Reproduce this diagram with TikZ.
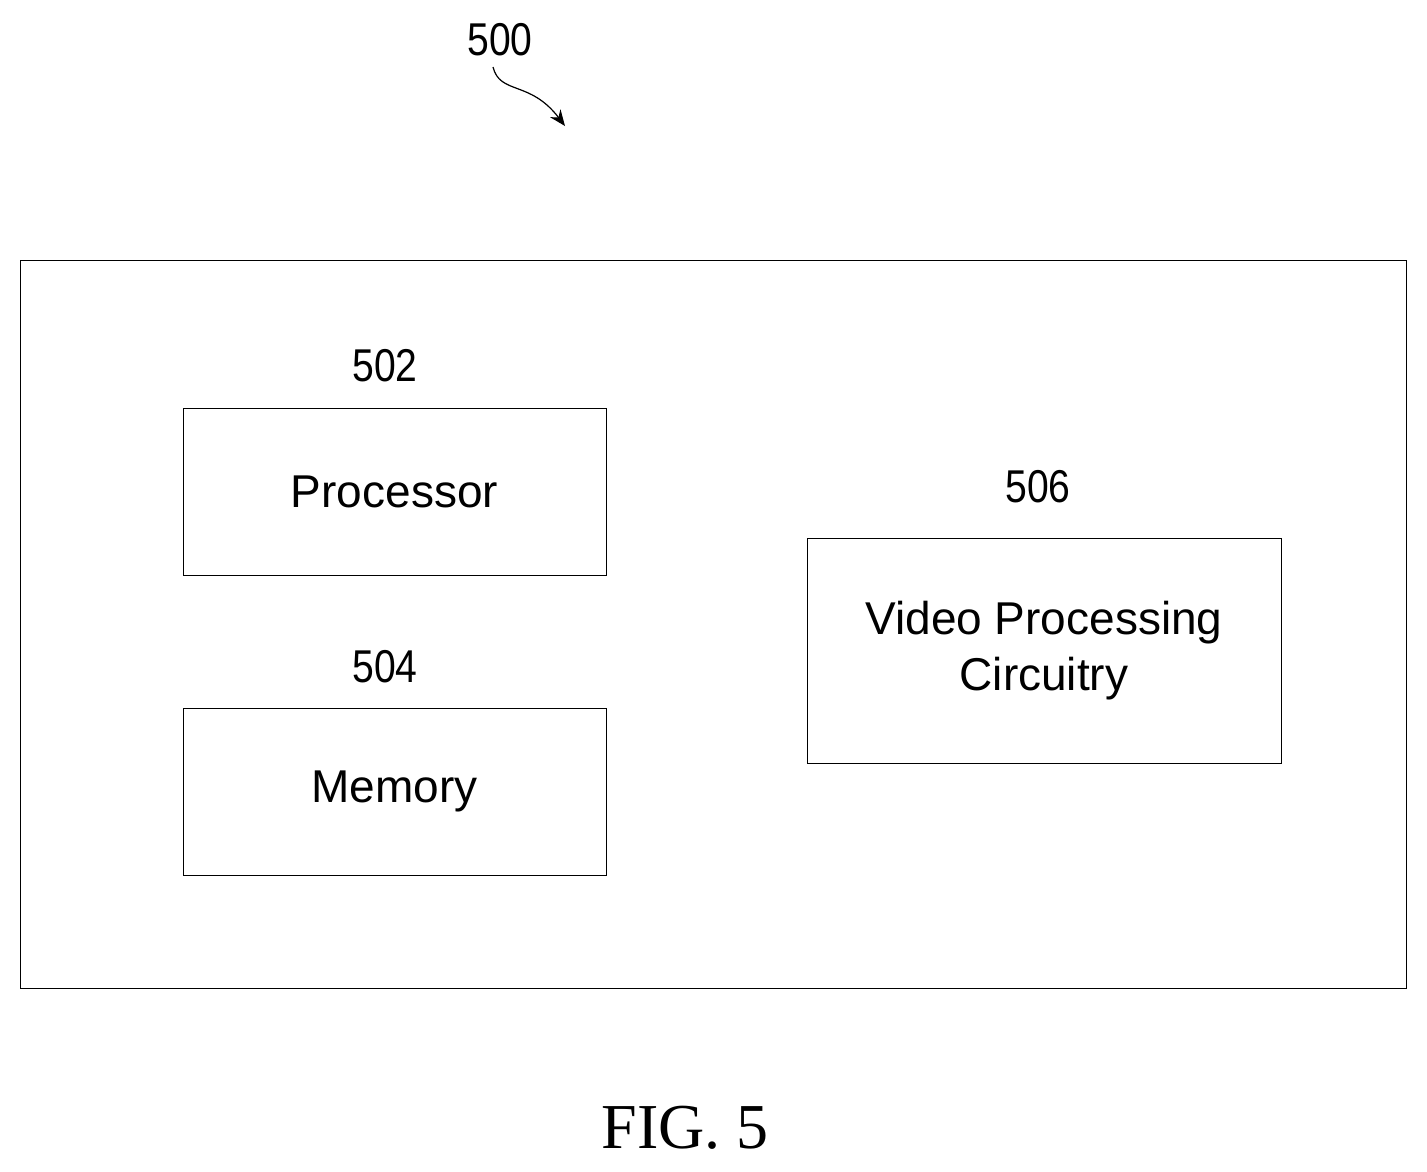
\documentclass[tikz,border=0pt]{standalone}
\usepackage{fontspec}
\setmainfont{Liberation Sans}
\newfontfamily\figfont{Liberation Serif}
\usetikzlibrary{arrows.meta}
\begin{document}
\begin{tikzpicture}[x=1pt,y=-1pt,
  blk/.style={draw,line width=0.8pt,inner sep=0pt},
  lbl/.style={font=\fontsize{46}{50}\selectfont,xscale=0.85},
  txt/.style={font=\fontsize{46}{56}\selectfont,align=center}]
\useasboundingbox (0,0) rectangle (1427,1171);
\draw[line width=0.8pt] (20,260) rectangle (1406,988);
\node[blk,minimum width=423pt,minimum height=167pt] (proc) at (394.5,491.5) {};
\node[txt] at (proc) {Processor};
\node[blk,minimum width=423pt,minimum height=167pt] (mem) at (394.5,791.5) {};
\node[txt] at (mem) {Memory};
\node[blk,minimum width=474pt,minimum height=225pt] (vid) at (1044,650.5) {};
\node[txt] at (vid) {Video Processing\\Circuitry};
\node[lbl] (l502) at (385,366) {502};
\node[lbl] (l504) at (385,667) {504};
\node[lbl] (l506) at (1038,487) {506};
\node[lbl] (l500) at (500,40) {500};
\coordinate (a1) at (493,67);
\coordinate (a2) at (565,126);
\draw[line width=1.2pt,-{Stealth[length=16pt,width=13pt]}] (a1) .. controls (500,95) and (530,80) .. (a2);
\node[font=\figfont\fontsize{64}{70}\selectfont] (fig) at (685,1128) {FIG. 5};
\end{tikzpicture}
\end{document}
